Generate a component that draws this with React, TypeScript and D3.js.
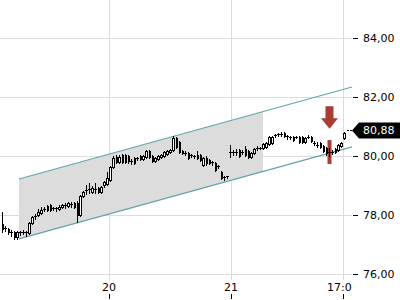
import React from "react";
import * as d3 from "d3";

// ---- data ----
const opens = [77.69,77.53,77.53,77.42,77.42,77.25,77.42,77.39,77.42,77.39,77.73,77.93,78.00,78.07,78.17,78.31,78.34,78.24,78.24,78.20,
78.27,78.34,78.31,78.37,78.41,78.41,78.00,78.64,78.81,78.88,78.78,78.88,78.92,78.78,79.02,79.05,79.19,79.63,79.97,79.80,
80.03,80.03,80.00,79.83,79.93,79.93,80.00,79.90,79.97,80.17,80.00,79.83,79.90,79.97,80.00,80.07,80.14,80.20,80.61,80.47,
80.17,80.10,80.10,80.03,80.00,80.03,80.03,79.69,79.93,79.86,79.80,79.76,79.66,79.46,79.29,79.31,80.14,80.14,80.14,80.20,
80.14,80.24,80.17,79.97,80.10,80.27,80.27,80.27,80.31,80.41,80.44,80.68,80.75,80.71,80.78,80.68,80.64,80.64,80.64,80.64,
80.64,80.47,80.64,80.64,80.44,80.37,80.44,80.34,80.27,80.14,80.14,80.24,80.20,80.34,80.61];
const highs = [78.10,77.63,77.56,77.49,77.46,77.46,77.46,77.49,77.46,77.76,77.97,78.03,78.20,78.27,78.27,78.34,78.37,78.27,78.27,78.34,
78.37,78.41,78.44,78.44,78.44,78.47,78.68,78.81,79.02,79.08,78.98,79.08,78.95,78.98,79.15,79.46,79.66,80.00,80.03,80.03,
80.07,80.07,80.03,79.90,79.97,79.97,80.03,80.03,80.20,80.20,80.03,79.97,80.03,80.07,80.17,80.20,80.24,80.68,80.64,80.51,
80.20,80.17,80.14,80.07,80.03,80.17,80.07,79.97,80.00,79.90,79.83,79.80,79.69,79.49,79.32,79.32,80.37,80.20,80.24,80.24,
80.20,80.34,80.20,80.14,80.27,80.34,80.31,80.44,80.47,80.68,80.68,80.75,80.78,80.81,80.81,80.71,80.68,80.68,80.68,80.68,
80.68,80.64,80.71,80.68,80.51,80.47,80.47,80.37,80.31,80.27,80.20,80.27,80.41,80.47,80.81];
const lows = [77.42,77.46,77.36,77.29,77.19,77.19,77.32,77.36,77.29,77.36,77.69,77.86,77.97,78.03,78.14,78.14,78.14,78.17,78.14,78.17,
78.24,78.24,78.27,78.27,78.24,77.76,77.97,78.61,78.71,78.75,78.75,78.75,78.75,78.75,78.95,79.02,79.15,79.59,79.76,79.76,
79.76,79.76,79.76,79.73,79.73,79.86,79.86,79.86,79.93,79.93,79.80,79.80,79.86,79.93,79.97,80.03,80.10,80.17,80.27,80.10,
80.07,80.03,79.90,79.97,79.93,79.90,79.83,79.66,79.69,79.73,79.69,79.49,79.59,79.22,79.19,79.25,79.97,80.03,80.03,79.97,
80.07,80.00,79.93,79.93,80.07,80.20,80.24,80.24,80.27,80.37,80.41,80.64,80.68,80.68,80.64,80.58,80.58,80.51,80.61,80.44,
80.44,80.44,80.61,80.47,80.37,80.31,80.27,80.14,80.03,80.00,80.07,80.10,80.17,80.31,80.58];
const closes = [77.53,77.56,77.42,77.41,77.25,77.42,77.39,77.42,77.39,77.73,77.93,77.97,78.10,78.17,78.20,78.17,78.17,78.23,78.20,78.27,
78.34,78.31,78.41,78.34,78.27,78.00,78.64,78.78,78.85,78.85,78.92,78.85,78.78,78.95,79.12,79.25,79.63,79.93,79.80,79.97,
79.80,79.80,79.83,79.80,79.76,79.90,79.90,80.00,80.17,79.97,79.83,79.93,80.00,80.03,80.14,80.17,80.20,80.61,80.31,80.14,
80.10,80.09,79.93,80.00,79.97,79.93,79.86,79.93,79.76,79.76,79.76,79.53,79.63,79.25,79.28,79.29,80.13,80.10,80.13,80.00,
80.13,80.03,79.97,80.10,80.24,80.26,80.26,80.41,80.44,80.64,80.64,80.71,80.74,80.75,80.68,80.64,80.63,80.54,80.63,80.47,
80.47,80.61,80.63,80.51,80.43,80.36,80.31,80.17,80.10,80.13,80.13,80.14,80.37,80.44,80.78];

const yTicks = [76, 78, 80, 82, 84];
const xTickSlots = [36.3, 77, 114.3];
const xTickLabels = ["20", "21", "17:00"];

// trend channel (slot, price)
const channelSlots = [6.33, 117.33];
const channelUpper = [79.22, 82.34];
const channelLower = [77.19, 80.31];
const shadeEndSlot = 87.67;

const lastPrice = 80.88;
const signalIndex = 109;
const signalBar = [80.54, 79.73];
const arrowPrices = [81.69, 81.28, 80.92]; // top, head base, tip

const W = 400, H = 300, PW = 352, PH = 280;

export default function App() {
  const x = d3.scaleLinear().domain([0, 117.33]).range([0, PW]);
  const y = d3.scaleLinear().domain([76, 84]).range([274, 38]);
  const slot = (i: number) => i + 0.7;

  const up = d3.scaleLinear().domain(channelSlots).range(channelUpper);
  const lo = d3.scaleLinear().domain(channelSlots).range(channelLower);
  const s0 = channelSlots[0];
  const shade = `M${x(s0)},${y(up(s0))}L${x(shadeEndSlot)},${y(up(shadeEndSlot))}L${x(shadeEndSlot)},${y(lo(shadeEndSlot))}L${x(s0)},${y(lo(s0))}Z`;

  const fmt = (v: number) => v.toFixed(2).replace(".", ",");
  const grid = "#dcdcdc";
  const teal = "#64a3ab";
  const red = "#a83d36";

  const sx = Math.round(x(slot(signalIndex)));
  const ly = Math.round(y(lastPrice));

  return (
    <svg width={W} height={H} style={{ position: "absolute", left: 0, top: 0, background: "#fff" }}
      fontFamily="DejaVu Sans" fontSize={11}>
      <defs>
        <clipPath id="plot"><rect x={0} y={0} width={PW} height={H} /></clipPath>
      </defs>
      <g shapeRendering="crispEdges">
        {yTicks.map((t) => (
          <line key={t} x1={0} x2={PW} y1={Math.round(y(t)) + 0.5} y2={Math.round(y(t)) + 0.5} stroke={grid} />
        ))}
        {xTickSlots.map((t) => (
          <line key={t} x1={Math.round(x(t)) + 0.5} x2={Math.round(x(t)) + 0.5} y1={0} y2={PH} stroke={grid} />
        ))}
      </g>
      <path d={shade} fill="#dcdcdc" />
      <line x1={x(channelSlots[0])} y1={y(channelUpper[0])} x2={x(channelSlots[1])} y2={y(channelUpper[1])} stroke={teal} strokeWidth={1.1} />
      <line x1={x(channelSlots[0])} y1={y(channelLower[0])} x2={x(channelSlots[1])} y2={y(channelLower[1])} stroke={teal} strokeWidth={1.1} />
      {/* signal bar */}
      <rect x={sx - 1.5} y={y(signalBar[0])} width={4} height={y(signalBar[1]) - y(signalBar[0])} fill={red} />
      {/* candles */}
      <g shapeRendering="crispEdges">
        {opens.map((o, i) => {
          const c = closes[i];
          const r = Math.round(x(slot(i)));
          const top = Math.round(y(Math.max(o, c)));
          const bot = Math.round(y(Math.min(o, c)));
          const hy = Math.round(y(highs[i]));
          const lyw = Math.round(y(lows[i]));
          const bull = c > o;
          const h = bot - top;
          return (
            <g key={i}>
              <line x1={r + 0.5} x2={r + 0.5} y1={hy} y2={lyw + 1} stroke="#000" />
              {h < 2 ? (
                <line x1={r - 1} x2={r + 2} y1={top + 0.5} y2={top + 0.5} stroke="#000" />
              ) : bull ? (
                <rect x={r - 0.5} y={top + 0.5} width={2} height={h} fill="#fff" stroke="#000" />
              ) : (
                <rect x={r} y={top} width={2} height={h + 1} fill="#000" />
              )}
            </g>
          );
        })}
      </g>
      {/* arrow */}
      <path
        d={`M${sx - 3.5},${y(arrowPrices[0])}L${sx + 4.5},${y(arrowPrices[0])}L${sx + 4.5},${y(arrowPrices[1])}L${sx + 9},${y(arrowPrices[1])}L${sx + 0.5},${y(arrowPrices[2])}L${sx - 8},${y(arrowPrices[1])}L${sx - 3.5},${y(arrowPrices[1])}Z`}
        fill={red}
      />
      {/* right axis */}
      <g shapeRendering="crispEdges">
        {yTicks.map((t) => (
          <line key={t} x1={PW + 1} x2={PW + 6} y1={Math.round(y(t)) + 0.5} y2={Math.round(y(t)) + 0.5} stroke="#000" />
        ))}
      </g>
      {yTicks.map((t) => (
        <text key={t} x={363} y={y(t)} dy="0.36em" fill="#000">{fmt(t)}</text>
      ))}
      {/* bottom axis */}
      <g clipPath="url(#plot)">
        {xTickSlots.map((t, i) => (
          <text key={t} x={x(t)} y={291} textAnchor="middle" fill="#000">{xTickLabels[i]}</text>
        ))}
      </g>
      <g shapeRendering="crispEdges">
        {xTickSlots.map((t) => (
          <line key={t} x1={Math.round(x(t)) + 0.5} x2={Math.round(x(t)) + 0.5} y1={294} y2={299} stroke="#000" />
        ))}
      </g>
      {/* last price */}
      <line x1={347} x2={352} y1={ly + 0.5} y2={ly + 0.5} stroke="#000" strokeDasharray="2,1" shapeRendering="crispEdges" />
      <path d={`M352,${ly + 0.5}L359,${ly - 7.5}L400,${ly - 7.5}L400,${ly + 8.5}L359,${ly + 8.5}Z`} fill="#000" />
      <text x={363} y={ly + 0.5} dy="0.36em" fill="#fff">{fmt(lastPrice)}</text>
    </svg>
  );
}
